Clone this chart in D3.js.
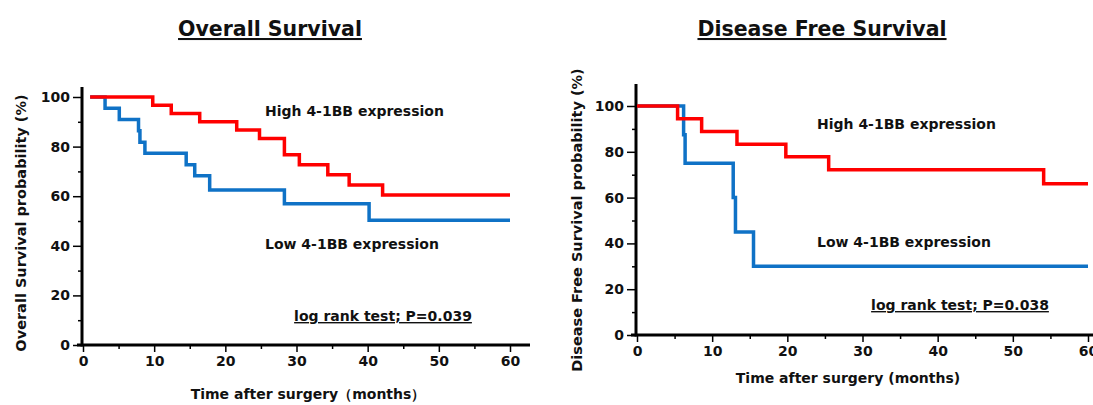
<!DOCTYPE html>
<meta charset="utf-8">
<style>
  body { margin: 0; background: #fff; }
  text { font-family: "DejaVu Sans", Verdana, sans-serif; font-weight: bold; fill: #111; }
</style>
<svg width="1093" height="405"></svg>
<script src="https://d3js.org/d3.v7.min.js"></script>
<script>

// Kaplan-Meier step data (time in months, survival %)
var osHighTime = [1, 9.8, 12.4, 16.4, 21.6, 24.8, 28.3, 30.4, 34.4, 37.4, 42.1, 60];
var osHighSurv = [100, 96.7, 93.3, 90.0, 86.7, 83.3, 76.7, 72.7, 68.6, 64.5, 60.5, 60.5];
var osLowTime  = [1, 3.1, 5.1, 7.8, 8.0, 8.7, 14.5, 15.7, 17.8, 28.3, 40.2, 60];
var osLowSurv  = [100, 95.5, 90.9, 86.4, 81.8, 77.3, 72.7, 68.2, 62.5, 57.0, 50.3, 50.3];

var dfsHighTime = [0, 5.4, 8.6, 13.3, 19.8, 25.5, 54.1, 60];
var dfsHighSurv = [100, 94.4, 88.9, 83.3, 77.8, 72.2, 66.0, 66.0];
var dfsLowTime  = [0, 6.2, 6.4, 12.8, 13.1, 15.5, 60];
var dfsLowSurv  = [100, 87.5, 75.0, 60.0, 45.0, 30.0, 30.0];

var xTicks = [0, 10, 20, 30, 40, 50, 60];
var xMinor = [5, 15, 25, 35, 45, 55];
var yTicks = [0, 20, 40, 60, 80, 100];
var yMinor = [10, 30, 50, 70, 90];

var RED = "#ff0000", BLUE = "#0f72c6";

var svg = d3.select("svg");

function pair(t, s) { return t.map(function(d, i) { return [d, s[i]]; }); }

function panel(o) {
  var g = svg.append("g");
  var x = d3.scaleLinear().domain([0, 60]).range(o.xr);
  var y = d3.scaleLinear().domain([0, 100]).range(o.yr);
  var ax = x(0) - 1;

  // title
  g.append("text")
      .attr("x", o.titleX).attr("y", 36)
      .attr("text-anchor", "middle")
      .attr("font-size", 20.5)
      .attr("text-decoration", "underline")
      .text(o.title);

  // y axis
  var ya = g.append("g").attr("transform", "translate(" + ax + ",0)");
  ya.call(d3.axisLeft(y).tickValues(yTicks).tickSize(9).tickPadding(3))
    .call(function(s) { s.select(".domain").remove(); })
    .selectAll("text").attr("font-size", 14).attr("font-family", null);
  ya.selectAll(".tick line").attr("stroke-width", 1.5);
  ya.append("g").call(d3.axisLeft(y).tickValues(yMinor).tickSize(4).tickFormat(""))
    .call(function(s) { s.select(".domain").remove(); })
    .selectAll("line").attr("stroke-width", 1.5);
  ya.append("line")
      .attr("y1", y(0) + 1.5).attr("y2", o.yTop)
      .attr("stroke", "#000").attr("stroke-width", 3);

  // x axis
  var xa = g.append("g").attr("transform", "translate(0," + y(0) + ")");
  xa.call(d3.axisBottom(x).tickValues(xTicks).tickSize(7).tickPadding(4))
    .call(function(s) { s.select(".domain").remove(); })
    .selectAll("text").attr("font-size", 14).attr("font-family", null);
  xa.selectAll(".tick line").attr("stroke-width", 1.5);
  xa.append("g").call(d3.axisBottom(x).tickValues(xMinor).tickSize(4).tickFormat(""))
    .call(function(s) { s.select(".domain").remove(); })
    .selectAll("line").attr("stroke-width", 1.5);
  xa.append("line")
      .attr("x1", ax - 5).attr("x2", o.xRight)
      .attr("stroke", "#000").attr("stroke-width", 3);

  // axis labels
  g.append("text")
      .attr("transform", "translate(" + o.yLabel[0] + "," + o.yLabel[1] + ") rotate(-90)")
      .attr("text-anchor", "middle")
      .attr("font-size", 14.5)
      .attr("dy", "0.35em")
      .text(o.yTitle);
  g.append("text")
      .attr("x", o.xLabel[0]).attr("y", o.xLabel[1])
      .attr("text-anchor", "middle")
      .attr("font-size", 14)
      .text(o.xTitle);

  // curves
  var line = d3.line()
      .x(function(d) { return x(d[0]); })
      .y(function(d) { return y(d[1]); })
      .curve(d3.curveStepAfter);

  g.append("path").datum(pair(o.lowT, o.lowS))
      .attr("fill", "none").attr("stroke", BLUE).attr("stroke-width", 3.5)
      .attr("d", line);
  g.append("path").datum(pair(o.highT, o.highS))
      .attr("fill", "none").attr("stroke", RED).attr("stroke-width", 3.5)
      .attr("d", line);

  // annotations
  g.append("text").attr("x", o.highLbl[0]).attr("y", o.highLbl[1])
      .attr("font-size", 14).text("High 4-1BB expression");
  g.append("text").attr("x", o.lowLbl[0]).attr("y", o.lowLbl[1])
      .attr("font-size", 14).text("Low 4-1BB expression");
  g.append("text").attr("x", o.pLbl[0]).attr("y", o.pLbl[1])
      .attr("text-anchor", "middle")
      .attr("font-size", 14)
      .attr("text-decoration", "underline")
      .text(o.pText);
}

panel({
  title: "Overall Survival", titleX: 270,
  xr: [83, 510], yr: [345, 97],
  yTop: 87, xRight: 530,
  yTitle: "Overall Survival probability (%)", yLabel: [21, 223],
  xTitle: "Time after surgery（months）", xLabel: [308, 399],
  highT: osHighTime, highS: osHighSurv, lowT: osLowTime, lowS: osLowSurv,
  highLbl: [265, 116], lowLbl: [265, 249],
  pText: "log rank test; P=0.039", pLbl: [383, 321]
});

panel({
  title: "Disease Free Survival", titleX: 822,
  xr: [637, 1088], yr: [335, 106],
  yTop: 84, xRight: 1093,
  yTitle: "Disease Free Survival probability (%)", yLabel: [577, 220],
  xTitle: "Time after surgery (months)", xLabel: [848, 383],
  highT: dfsHighTime, highS: dfsHighSurv, lowT: dfsLowTime, lowS: dfsLowSurv,
  highLbl: [817, 129], lowLbl: [817, 247],
  pText: "log rank test; P=0.038", pLbl: [960, 310]
});

</script>
